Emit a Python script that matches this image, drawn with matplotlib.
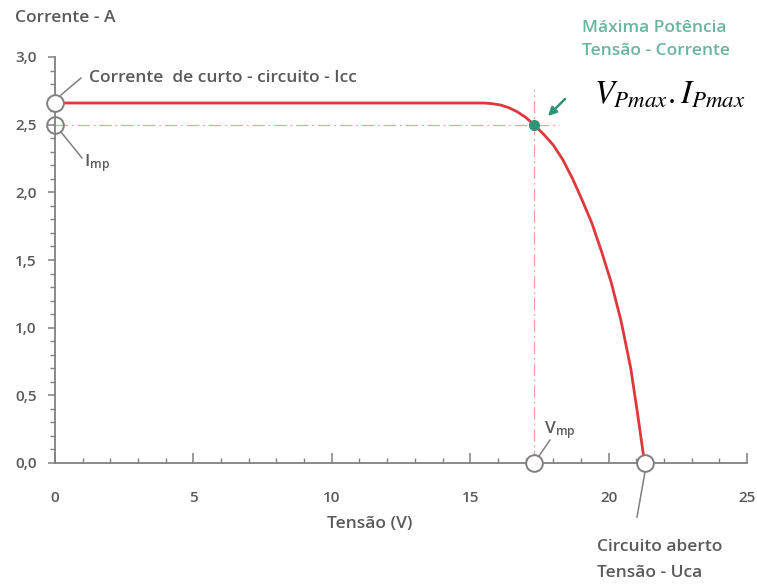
import matplotlib
matplotlib.use("Agg")
import matplotlib.pyplot as plt
from matplotlib.ticker import MultipleLocator, FixedLocator, FuncFormatter

# Data
voltage = [0.0, 5.0, 10.0, 15.0, 15.5, 15.8, 16.1, 16.4, 16.7, 17.0, 17.3, 17.65, 18.0, 18.35,
           18.7, 19.05, 19.4, 19.75, 20.1, 20.45, 20.8, 21.05, 21.3]
current = [2.66, 2.66, 2.66, 2.66, 2.66, 2.655, 2.645, 2.625, 2.595, 2.555, 2.50, 2.43, 2.35, 2.24,
           2.10, 1.94, 1.77, 1.56, 1.33, 1.05, 0.70, 0.36, 0.0]
v_mp, i_mp = 17.3, 2.50
i_cc = 2.66
v_oc = 21.3
x_ticks = [0, 5, 10, 15, 20, 25]
y_ticks = [0.0, 0.5, 1.0, 1.5, 2.0, 2.5, 3.0]

grey = "#5a5a5a"
axis_grey = "#808080"
red = "#e0383a"
light_red = "#f0a0a0"
teal = "#2e9478"
teal_text = "#6ab5a0"

plt.rcParams['font.family'] = ['Open Sans', 'DejaVu Sans']
plt.rcParams['mathtext.fontset'] = 'stix'

fig = plt.figure(figsize=(7.57, 5.84), dpi=100)
W, H = 757, 584
X0, X1 = 55, 747
ax = fig.add_axes([X0 / W, (H - 463) / H, (X1 - X0) / W, (463 - 57) / H])
ax.set_xlim(0, 25)
ax.set_ylim(0, 3.0)
for s in ["top", "right"]:
    ax.spines[s].set_visible(False)
for s in ["left", "bottom"]:
    ax.spines[s].set_color(axis_grey)
    ax.spines[s].set_linewidth(1.3)

ax.xaxis.set_major_locator(FixedLocator(x_ticks))
ax.xaxis.set_minor_locator(MultipleLocator(1))
ax.yaxis.set_major_locator(FixedLocator(y_ticks))
ax.yaxis.set_minor_locator(MultipleLocator(0.1))
ax.yaxis.set_major_formatter(FuncFormatter(lambda v, p: f"{v:.1f}".replace(".", ",")))
ax.xaxis.set_major_formatter(FuncFormatter(lambda v, p: f"{int(v)}"))
ax.tick_params(axis="x", which="major", direction="in", length=7, width=1.1, color=axis_grey,
               pad=20, labelsize=11, labelcolor=grey)
ax.tick_params(axis="x", which="minor", direction="in", length=3.5, width=1.0, color=axis_grey)
ax.tick_params(axis="y", which="major", direction="out", length=5, width=1.1, color=axis_grey,
               pad=8, labelsize=11, labelcolor=grey)
ax.tick_params(axis="y", which="minor", direction="out", length=3.5, width=1.0, color=axis_grey)
for lab in ax.get_xticklabels() + ax.get_yticklabels():
    lab.set_fontweight("semibold")

# dash-dot guides
ax.plot([0, 18.2], [i_mp, i_mp], color=light_red, lw=0.9, ls=(0, (10, 3, 1.5, 3)), zorder=2)
ax.plot([v_mp, v_mp], [0, 2.76], color=light_red, lw=0.9, ls=(0, (10, 3, 1.5, 3)), zorder=2)

# IV curve
ax.plot(voltage, current, color=red, lw=2.0, zorder=3, clip_on=False)

# MPP dot
ax.plot([v_mp], [i_mp], "o", color=teal, ms=7, zorder=5)

# open circles
circ = dict(marker="o", ms=12, mfc="white", mec=axis_grey, mew=1.4, ls="none", zorder=6, clip_on=False)
ax.plot([0], [i_cc], **circ)
ax.plot([0], [i_mp], mfc="none", **{k: v for k, v in circ.items() if k != "mfc"})
ax.plot([v_mp], [0], **circ)
ax.plot([v_oc], [0], **circ)

PXU = (X1 - X0) / 25.0

def px2data(x, y):
    return ((x - X0) / PXU, (463 - y) / 135.33)

lead = dict(color=axis_grey, lw=1.1, zorder=4, clip_on=False)
for (x0, y0), (x1, y1) in [((61, 95), (81, 78)), ((61, 132), (82, 158)),
                          ((539, 456), (550, 440)), ((645, 472), (637, 517))]:
    a = px2data(x0, y0); b = px2data(x1, y1)
    ax.plot([a[0], b[0]], [a[1], b[1]], **lead)

# texts
tx = dict(fontsize=12.5, color=grey, fontweight="semibold")
fig.text(15 / W, 1 - 18 / H, "Corrente - A", va="center", ha="left", **tx)
fig.text(89 / W, 1 - 78 / H, "Corrente  de curto - circuito - Icc", va="center", ha="left", **tx)
fig.text(84 / W, 1 - 163 / H, r"I$_{\mathregular{mp}}$", va="center", ha="left", **tx)
fig.text(544 / W, 1 - 430 / H, r"V$_{\mathregular{mp}}$", va="center", ha="left", **tx)
fig.text(597 / W, 1 - 547 / H, "Circuito aberto", va="center", ha="left", **tx)
fig.text(597 / W, 1 - 573 / H, "Tensão - Uca", va="center", ha="left", **tx)
fig.text(370 / W, 1 - 524 / H, "Tensão (V)", va="center", ha="center", **tx)
fig.text(582 / W, 1 - 28 / H, "Máxima Potência", fontsize=12.5, color=teal_text, va="center",
         ha="left", fontweight="semibold")
fig.text(582 / W, 1 - 51 / H, "Tensão - Corrente", fontsize=12.5, color=teal_text, va="center",
         ha="left", fontweight="semibold")
fig.text(670 / W, 1 - 95 / H, r"$V_{Pmax}.I_{Pmax}$", fontsize=23.5, color="black", va="center",
         ha="center")

# arrow
a = px2data(567, 97); b = px2data(546, 118)
ax.annotate("", xy=b, xytext=a, xycoords="data",
            arrowprops=dict(arrowstyle="-|>", color=teal, lw=1.8, mutation_scale=12),
            annotation_clip=False)

fig.savefig("out.png", dpi=100, facecolor="white")
